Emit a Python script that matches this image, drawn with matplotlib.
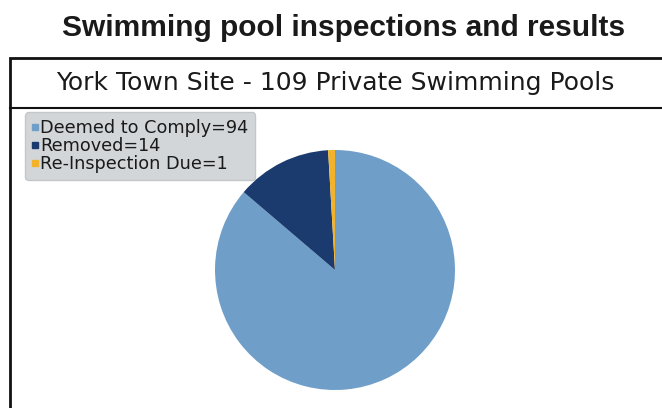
import matplotlib
matplotlib.use("Agg")
import matplotlib.pyplot as plt
from matplotlib.lines import Line2D
from matplotlib.patches import Rectangle

categories = ["Deemed to Comply", "Removed", "Re-Inspection Due"]
values = [94, 14, 1]
colors = ["#6f9fc9", "#1b3a6d", "#f2b32a"]
title = "Swimming pool inspections and results"
subtitle = "York Town Site - 109 Private Swimming Pools"

W, H = 662, 408
fig = plt.figure(figsize=(W / 100, H / 100), dpi=100)
fig.patch.set_facecolor("white")

def fx(px):
    return px / W

def fy(py):
    return 1 - py / H

# Main title
fig.text(fx(344), fy(28), title, ha="center", va="center",
         fontsize=21.5, fontweight="bold", family="Liberation Sans", color="#1a1a1a")

# Chart frame
fig.add_artist(Rectangle((fx(10), fy(420)), fx(700), fy(58) - fy(420),
                         transform=fig.transFigure, fill=False,
                         edgecolor="#111111", linewidth=2))
fig.add_artist(Line2D([fx(10), fx(662)], [fy(108), fy(108)],
                      transform=fig.transFigure, color="#111111", linewidth=1.5))
fig.text(fx(335), fy(83), subtitle, ha="center", va="center",
         fontsize=18.0, family="DejaVu Sans", color="#1a1a1a")

# Pie
cx, cy, r = 335, 270, 120
ax = fig.add_axes([fx(cx - r), fy(cy + r), fx(2 * r), fy(cy - r) - fy(cy + r)])
wedges, _ = ax.pie(values, colors=colors, startangle=90, counterclock=False,
                   radius=1.0, wedgeprops=dict(linewidth=0))
ax.set_xlim(-1, 1)
ax.set_ylim(-1, 1)
ax.set_aspect("equal")
ax.axis("off")

# Legend
handles = [Line2D([], [], marker="s", linestyle="none", markersize=5,
                  markerfacecolor=c, markeredgecolor=c) for c in colors]
labels = [f"{c}={v}" for c, v in zip(categories, values)]
leg = fig.legend(handles, labels, loc="upper left",
                 bbox_to_anchor=(fx(25), fy(112)),
                 prop=dict(family="DejaVu Sans", size=12.7),
                 handlelength=0.35, handletextpad=0.1, labelspacing=0.0,
                 borderpad=0.4, borderaxespad=0, fancybox=True,
                 framealpha=1, facecolor="#d3d6d9", edgecolor="#c4c7ca")
for t in leg.get_texts():
    t.set_color("#1a1a1a")

fig.savefig("out.png", dpi=100)
